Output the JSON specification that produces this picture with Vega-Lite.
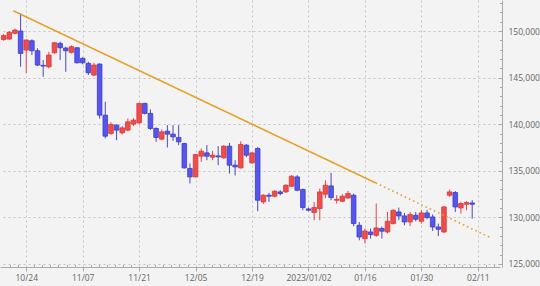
{
  "$schema": "https://vega.github.io/schema/vega-lite/v6.json",
  "width": 500,
  "height": 267,
  "autosize": {"type": "none"},
  "padding": {"left": 0, "top": 0, "right": 40, "bottom": 19},
  "background": "#f3f3f3",
  "config": {
    "view": {"stroke": null, "fill": "#f3f3f3"},
    "axis": {"labelFont": "Open Sans", "labelFontSize": 8.5, "labelColor": "#666666", "domainColor": "#aaaaaa", "tickColor": "#aaaaaa", "gridColor": "#c4c4c4", "gridDash": [2, 3], "gridWidth": 1, "title": null}
  },
  "datasets": {
    "candles": [
      {"t": -1, "o": 149087, "h": 149700, "l": 148950, "c": 149517},
      {"t": 0, "o": 149141, "h": 150000, "l": 149050, "c": 149860},
      {"t": 1, "o": 149753, "h": 150250, "l": 149650, "c": 150107},
      {"t": 2, "o": 150000, "h": 151900, "l": 146165, "c": 147600},
      {"t": 3, "o": 147959, "h": 149100, "l": 145455, "c": 149033},
      {"t": 4, "o": 148958, "h": 149108, "l": 147421, "c": 147884},
      {"t": 5, "o": 147884, "h": 148141, "l": 146240, "c": 146347},
      {"t": 6, "o": 146315, "h": 146885, "l": 145090, "c": 146240},
      {"t": 7, "o": 146165, "h": 147776, "l": 145990, "c": 147421},
      {"t": 8, "o": 147669, "h": 148800, "l": 147560, "c": 148743},
      {"t": 9, "o": 148679, "h": 148850, "l": 146885, "c": 148206},
      {"t": 10, "o": 148174, "h": 148314, "l": 145627, "c": 147884},
      {"t": 11, "o": 147712, "h": 148464, "l": 147600, "c": 148314},
      {"t": 12, "o": 148206, "h": 148281, "l": 146520, "c": 146594},
      {"t": 13, "o": 147067, "h": 147200, "l": 146420, "c": 146594},
      {"t": 14, "o": 146530, "h": 146702, "l": 145272, "c": 145520},
      {"t": 15, "o": 145272, "h": 146594, "l": 145165, "c": 146347},
      {"t": 16, "o": 146455, "h": 146530, "l": 140600, "c": 140975},
      {"t": 17, "o": 140975, "h": 142405, "l": 138472, "c": 138719},
      {"t": 18, "o": 139010, "h": 140200, "l": 138850, "c": 139978},
      {"t": 19, "o": 139900, "h": 140000, "l": 138289, "c": 139363},
      {"t": 20, "o": 139073, "h": 139800, "l": 138900, "c": 139610},
      {"t": 21, "o": 139363, "h": 140620, "l": 139250, "c": 140255},
      {"t": 22, "o": 140009, "h": 140650, "l": 139800, "c": 140438},
      {"t": 23, "o": 140148, "h": 142300, "l": 140000, "c": 142232},
      {"t": 24, "o": 142232, "h": 142300, "l": 141050, "c": 141158},
      {"t": 25, "o": 141158, "h": 141588, "l": 139400, "c": 139547},
      {"t": 26, "o": 139547, "h": 139650, "l": 138107, "c": 138580},
      {"t": 27, "o": 138397, "h": 139440, "l": 138290, "c": 139182},
      {"t": 28, "o": 139256, "h": 139900, "l": 137505, "c": 138934},
      {"t": 29, "o": 138934, "h": 139900, "l": 138215, "c": 138644},
      {"t": 30, "o": 138580, "h": 139900, "l": 137752, "c": 138107},
      {"t": 31, "o": 137935, "h": 138000, "l": 135250, "c": 135313},
      {"t": 32, "o": 135249, "h": 135786, "l": 133637, "c": 134347},
      {"t": 33, "o": 134347, "h": 136800, "l": 134300, "c": 136753},
      {"t": 34, "o": 136570, "h": 137398, "l": 135958, "c": 137107},
      {"t": 35, "o": 136925, "h": 137752, "l": 136140, "c": 136570},
      {"t": 36, "o": 136463, "h": 137140, "l": 136140, "c": 136677},
      {"t": 37, "o": 136600, "h": 137645, "l": 135603, "c": 136500},
      {"t": 38, "o": 136393, "h": 137752, "l": 136300, "c": 137645},
      {"t": 39, "o": 137645, "h": 138000, "l": 134710, "c": 135603},
      {"t": 40, "o": 135603, "h": 136140, "l": 134500, "c": 135421},
      {"t": 41, "o": 135313, "h": 138182, "l": 135250, "c": 137827},
      {"t": 42, "o": 137752, "h": 137860, "l": 136460, "c": 136677},
      {"t": 43, "o": 135850, "h": 137000, "l": 135750, "c": 136925},
      {"t": 44, "o": 137398, "h": 137537, "l": 130660, "c": 131843},
      {"t": 45, "o": 131660, "h": 132480, "l": 131450, "c": 132380},
      {"t": 46, "o": 132380, "h": 132630, "l": 131660, "c": 132272},
      {"t": 47, "o": 132272, "h": 132917, "l": 132150, "c": 132810},
      {"t": 48, "o": 132735, "h": 132917, "l": 132370, "c": 132560},
      {"t": 49, "o": 132735, "h": 133560, "l": 132650, "c": 133455},
      {"t": 50, "o": 133347, "h": 134530, "l": 133240, "c": 134421},
      {"t": 51, "o": 134347, "h": 134530, "l": 132810, "c": 132917},
      {"t": 52, "o": 132992, "h": 133100, "l": 130768, "c": 131058},
      {"t": 53, "o": 130908, "h": 131050, "l": 130660, "c": 130768},
      {"t": 54, "o": 130522, "h": 131660, "l": 129694, "c": 131058},
      {"t": 55, "o": 130951, "h": 133100, "l": 129694, "c": 132735},
      {"t": 56, "o": 132488, "h": 133992, "l": 132060, "c": 133455},
      {"t": 57, "o": 133380, "h": 134786, "l": 131843, "c": 132134},
      {"t": 58, "o": 131843, "h": 132380, "l": 131480, "c": 131950},
      {"t": 59, "o": 131735, "h": 132488, "l": 131630, "c": 132272},
      {"t": 60, "o": 132090, "h": 132843, "l": 131980, "c": 132560},
      {"t": 61, "o": 132380, "h": 132560, "l": 129050, "c": 129340},
      {"t": 62, "o": 129156, "h": 129512, "l": 127546, "c": 127900},
      {"t": 63, "o": 127726, "h": 128810, "l": 127190, "c": 128546},
      {"t": 64, "o": 128438, "h": 128810, "l": 127726, "c": 128159},
      {"t": 65, "o": 128083, "h": 131488, "l": 127900, "c": 128868},
      {"t": 66, "o": 128810, "h": 129020, "l": 127726, "c": 128520},
      {"t": 67, "o": 128438, "h": 130588, "l": 128280, "c": 129588},
      {"t": 68, "o": 129340, "h": 130870, "l": 129230, "c": 130768},
      {"t": 69, "o": 130588, "h": 131058, "l": 129694, "c": 130158},
      {"t": 70, "o": 130158, "h": 130480, "l": 129156, "c": 129512},
      {"t": 71, "o": 129512, "h": 130588, "l": 129080, "c": 130308},
      {"t": 72, "o": 130233, "h": 130588, "l": 129588, "c": 129803},
      {"t": 73, "o": 129588, "h": 130800, "l": 129340, "c": 130480},
      {"t": 74, "o": 130480, "h": 130800, "l": 129800, "c": 129985},
      {"t": 75, "o": 130050, "h": 130330, "l": 128546, "c": 128974},
      {"t": 76, "o": 128974, "h": 129340, "l": 127995, "c": 128727},
      {"t": 77, "o": 128438, "h": 131200, "l": 128330, "c": 131123},
      {"t": 78, "o": 132380, "h": 132992, "l": 132200, "c": 132735},
      {"t": 79, "o": 132670, "h": 132830, "l": 130588, "c": 131123},
      {"t": 80, "o": 131015, "h": 131660, "l": 130416, "c": 131488},
      {"t": 81, "o": 131413, "h": 131767, "l": 130768, "c": 131595},
      {"t": 82, "o": 131552, "h": 131843, "l": 129870, "c": 131413}
    ],
    "trend": [
      {"t": 0.68, "v": 152181, "seg": "solid"},
      {"t": 64.9, "v": 133702, "seg": "solid"},
      {"t": 64.9, "v": 133702, "seg": "dotted"},
      {"t": 85.2, "v": 127836, "seg": "dotted"}
    ]
  },
  "layer": [
    {
      "data": {"name": "candles"},
      "mark": {"type": "rule", "strokeWidth": 1, "clip": true},
      "encoding": {
        "x": {
          "field": "t", "type": "quantitative", "title": null,
          "scale": {"domain": [-0.764, 86.04], "nice": false, "zero": false},
          "axis": {
            "orient": "bottom",
            "tickCount": 500,
            "values": [0.14, 1.57, 3, 4.43, 5.86, 7.29, 8.71, 10.14, 11.57, 13, 14.43, 15.86, 17.29, 18.71, 20.14, 21.57, 23, 24.43, 25.86, 27.29, 28.71, 30.14, 31.57, 33, 34.43, 35.86, 37.29, 38.71, 40.14, 41.57, 43, 44.43, 45.86, 47.29, 48.71, 50.14, 51.57, 53, 54.43, 55.86, 57.29, 58.71, 60.14, 61.57, 63, 64.43, 65.86, 67.29, 68.71, 70.14, 71.57, 73, 74.43, 75.86, 77.29, 78.71, 80.14, 81.57, 83, 84.43, 85.86],
            "labelExpr": "datum.value % 10 === 3 ? ['10/24','11/07','11/21','12/05','12/19','2023/01/02','01/16','01/30','02/11'][(datum.value - 3) / 10] : ''",
            "labelFlush": false,
            "labelOverlap": false,
            "grid": true,
            "gridOpacity": {"condition": {"test": "datum.value % 10 === 3", "value": 1}, "value": 0},
            "tickSize": {"condition": {"test": "datum.value % 10 === 3", "value": 4}, "value": -2.5},
            "labelPadding": 2
          }
        },
        "y": {
          "field": "l", "type": "quantitative", "title": null,
          "scale": {"domain": [124678, 153330], "nice": false, "zero": false},
          "axis": {
            "orient": "right",
            "offset": 2,
            "tickCount": 500,
            "values": [125000, 126000, 127000, 128000, 129000, 130000, 131000, 132000, 133000, 134000, 135000, 136000, 137000, 138000, 139000, 140000, 141000, 142000, 143000, 144000, 145000, 146000, 147000, 148000, 149000, 150000, 151000, 152000, 153000],
            "labelExpr": "datum.value % 5000 === 0 ? format(datum.value, ',') : ''",
            "labelOverlap": false,
            "labelFlush": false,
            "grid": true,
            "gridOpacity": {"condition": {"test": "datum.value % 5000 === 0", "value": 1}, "value": 0},
            "tickSize": {"condition": {"test": "datum.value % 5000 === 0", "value": -4}, "value": -2.5},
            "labelPadding": 10
          }
        },
        "y2": {"field": "h"},
        "color": {"condition": {"test": "datum.c >= datum.o", "value": "#e04848"}, "value": "#4a4ab8"}
      }
    },
    {
      "data": {"name": "candles"},
      "mark": {"type": "bar", "width": 4.6, "strokeWidth": 0.8, "clip": true},
      "encoding": {
        "x": {"field": "t", "type": "quantitative", "title": null},
        "y": {"field": "o", "type": "quantitative", "title": null},
        "y2": {"field": "c"},
        "fill": {"condition": {"test": "datum.c >= datum.o", "value": "#f04c4c"}, "value": "#5656ee"},
        "stroke": {"condition": {"test": "datum.c >= datum.o", "value": "#d63a3a"}, "value": "#3c3cc4"}
      }
    },
    {
      "data": {"name": "trend"},
      "mark": {"type": "line", "color": "#e6a028", "strokeWidth": 1.6, "clip": true},
      "encoding": {
        "x": {"field": "t", "type": "quantitative", "title": null},
        "y": {"field": "v", "type": "quantitative", "title": null},
        "detail": {"field": "seg"},
        "strokeDash": {"field": "seg", "type": "nominal", "scale": {"domain": ["solid", "dotted"], "range": [[1, 0], [1.6, 3]]}, "legend": null}
      }
    }
  ]
}
